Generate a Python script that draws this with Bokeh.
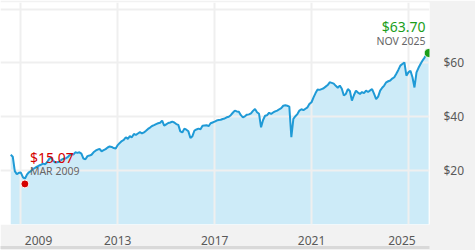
import pandas as pd
from bokeh.plotting import figure
from bokeh.models import Range1d, FixedTicker, LinearAxis, NumeralTickFormatter
from bokeh.core.properties import value
from bokeh.embed import file_html
from bokeh.resources import INLINE

# ---- data (monthly closes) ----
start_month = "2008-08"
end_month = "2025-11"
v2008 = [25.9, 25.2, 19.8, 18.7, 19.2]
v2009 = [19.3, 17.6, 17.0, 18.5, 19.4, 19.8, 20.6, 21.0, 21.5, 21.9, 22.2, 22.6]
v2010 = [22.4, 23.1, 24.3, 24.9, 23.7, 23.0, 23.1, 23.3, 24.0, 24.4, 24.5, 24.9]
v2011 = [25.6, 26.2, 26.0, 26.8, 26.6, 26.8, 26.3, 24.5, 24.2, 25.4, 25.6, 25.9]
v2012 = [26.8, 27.4, 27.8, 28.1, 27.2, 27.6, 28.0, 28.6, 29.0, 28.8, 28.4, 28.2]
v2013 = [29.5, 30.3, 31.0, 31.4, 32.4, 31.8, 32.8, 32.4, 33.6, 33.3, 33.8, 34.3]
v2014 = [33.8, 34.2, 34.8, 35.5, 36.0, 36.6, 36.9, 37.3, 37.6, 37.8, 38.6, 36.7]
v2015 = [37.2, 37.7, 37.9, 38.2, 37.9, 37.3, 37.0, 34.6, 34.2, 35.6, 35.2, 34.6]
v2016 = [32.1, 32.8, 34.9, 35.3, 35.6, 35.4, 36.7, 36.8, 36.9, 36.5, 37.6, 37.9]
v2017 = [38.2, 38.6, 38.8, 38.9, 39.2, 39.4, 39.8, 40.0, 40.6, 41.5, 42.3, 42.0]
v2018 = [41.9, 40.6, 39.8, 40.2, 40.8, 40.9, 41.3, 42.2, 42.9, 41.7, 41.1, 36.1]
v2019 = [38.8, 40.4, 40.6, 41.5, 41.1, 41.6, 42.0, 42.3, 42.8, 43.2, 44.1, 44.3]
v2020 = [44.1, 43.8, 32.4, 39.2, 40.2, 41.0, 42.3, 42.8, 42.5, 43.0, 43.5, 44.8]
v2021 = [45.4, 47.2, 48.8, 50.1, 50.0, 50.3, 50.6, 51.2, 51.8, 52.8, 52.6, 52.3]
v2022 = [51.5, 50.8, 51.6, 50.4, 47.9, 48.5, 50.3, 49.6, 46.0, 48.0, 49.7, 49.0]
v2023 = [48.5, 49.2, 48.8, 49.7, 49.2, 49.8, 50.3, 48.5, 46.6, 47.5, 49.7, 50.8]
v2024 = [51.6, 52.8, 53.2, 53.5, 54.2, 54.7, 56.0, 57.4, 59.0, 59.6, 60.2, 55.3]
v2025 = [56.5, 57.1, 54.7, 50.9, 56.5, 58.2, 59.6, 60.9, 62.0, 63.3, 63.7]

low_month = "2009-03"
low_value = 15.07
last_month = "2025-11"
last_value = 63.70

tick_years = [2009, 2013, 2017, 2021, 2025]
y_ticks = [20, 40, 60]
y_grid = [20, 40, 60, 80]

values = (v2008 + v2009 + v2010 + v2011 + v2012 + v2013 + v2014 + v2015 + v2016
          + v2017 + v2018 + v2019 + v2020 + v2021 + v2022 + v2023 + v2024 + v2025)
months = pd.period_range(start_month, end_month, freq="M")


def dec_year(p):
    return p.year + (p.month - 1) / 12.0


xs = [dec_year(m) for m in months]
low_p = pd.Period(low_month, freq="M")
last_p = pd.Period(last_month, freq="M")
low_x = dec_year(low_p)
last_x = dec_year(last_p)

FONT = "Noto Sans"
LINE = "#1f9ad6"
FILL = "#cdebf8"
GRID = "#efefef"
BAND = "#f2f2f2"

p = figure(width=475, height=250, output_backend="svg", toolbar_location=None,
           x_range=Range1d(2008.16, 2025.87), y_range=Range1d(0, 82.45),
           y_axis_location="right",
           min_border_left=0, min_border_right=46, min_border_top=2, min_border_bottom=26,
           border_fill_color=BAND, background_fill_color="white",
           outline_line_color=None)

p.varea(x=xs, y1=[0] * len(xs), y2=values, fill_color=FILL, level="image")
p.line(x=xs, y=values, line_color=LINE, line_width=2)

# grid
p.xgrid.ticker = FixedTicker(ticks=tick_years)
p.ygrid.ticker = FixedTicker(ticks=y_grid)
for g in (p.xgrid[0], p.ygrid[0]):
    g.grid_line_color = GRID
    g.grid_line_width = 2

# x axis: edge labels are pulled inside the plot
label_pos = list(float(t) for t in tick_years)
label_pos[0] += 0.73
label_pos[-1] -= 0.27
xa = p.xaxis[0]
xa.ticker = FixedTicker(ticks=label_pos)
xa.major_label_overrides = {pos: str(t) for pos, t in zip(label_pos, tick_years)}
xa.axis_line_color = None
xa.major_tick_line_color = None
xa.minor_tick_line_color = None
xa.major_label_standoff = 5
xa.major_label_text_font = FONT
xa.major_label_text_font_size = "12px"
xa.major_label_text_color = "#595959"

ya = p.yaxis[0]
ya.ticker = FixedTicker(ticks=y_ticks)
ya.formatter = NumeralTickFormatter(format="$0")
ya.axis_line_color = None
ya.major_tick_line_color = None
ya.minor_tick_line_color = None
ya.major_label_standoff = 8
ya.major_label_text_font = FONT
ya.major_label_text_font_size = "12px"
ya.major_label_text_color = "#595959"

# bottom border line
ax2 = LinearAxis(ticker=FixedTicker(ticks=[]), axis_line_color="#d9d9d9", axis_line_width=3,
                 major_tick_line_color=None, minor_tick_line_color=None,
                 major_label_text_font_size="0px")
p.add_layout(ax2, "below")

# low / last markers
p.scatter(x=[low_x], y=[low_value], size=8, fill_color="#d50000", line_color="white", line_width=1)
p.scatter(x=[last_x], y=[last_value], size=9, fill_color="#1a9e1a", line_color="white", line_width=1)

p.text(x=[low_x], y=[low_value], text=[f"${low_value:.2f}"], x_offset=5, y_offset=-26,
       text_font=value(FONT), text_font_size="14px", text_color="#d50000",
       text_align="left", text_baseline="alphabetic")
p.text(x=[low_x], y=[low_value], text=[low_p.strftime("%b %Y").upper()], x_offset=5, y_offset=-13,
       text_font=value(FONT), text_font_size="10.5px", text_color="#666666",
       text_align="left", text_baseline="alphabetic")
p.text(x=[last_x], y=[last_value], text=[f"${last_value:.2f}"], x_offset=-3, y_offset=-26,
       text_font=value(FONT), text_font_size="14px", text_color="#1a9e1a",
       text_align="right", text_baseline="alphabetic")
p.text(x=[last_x], y=[last_value], text=[last_p.strftime("%b %Y").upper()], x_offset=-3, y_offset=-12,
       text_font=value(FONT), text_font_size="10.5px", text_color="#666666",
       text_align="right", text_baseline="alphabetic")

open("out.html", "w").write(file_html(p, INLINE))
